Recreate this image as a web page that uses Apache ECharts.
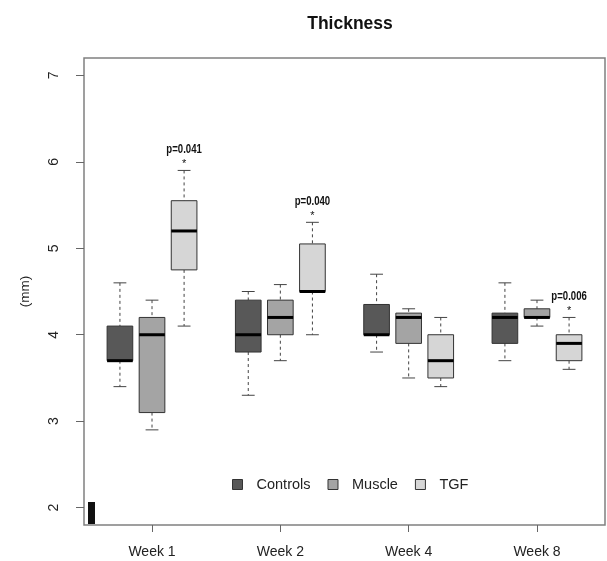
<!DOCTYPE html>
<html>
<head>
<meta charset="utf-8">
<title>Thickness</title>
<script src="https://cdn.jsdelivr.net/npm/echarts@6/dist/echarts.min.js"></script>
<style>
  html, body { margin: 0; padding: 0; background: #fff; }
  #chart { width: 607px; height: 561px; }
</style>
</head>
<body>
<div id="chart"></div>
<script>
// weeks on the x axis
const categories = ['Week 1', 'Week 2', 'Week 4', 'Week 8']
// [min, Q1, median, Q3, max] per week
const controls = [[3.4, 3.7, 3.7, 4.1, 4.6], [3.3, 3.8, 4.0, 4.4, 4.5], [3.8, 4.0, 4.0, 4.35, 4.7], [3.7, 3.9, 4.2, 4.25, 4.6]]
const muscle = [[2.9, 3.1, 4.0, 4.2, 4.4], [3.7, 4.0, 4.2, 4.4, 4.58], [3.5, 3.9, 4.2, 4.25, 4.3], [4.1, 4.2, 4.2, 4.3, 4.4]]
const tgf = [[4.1, 4.75, 5.2, 5.55, 5.9], [4.0, 4.5, 4.5, 5.05, 5.3], [3.4, 3.5, 3.7, 4.0, 4.2], [3.6, 3.7, 3.9, 4.0, 4.2]]
const pLabels = ['p=0.041', 'p=0.040', '', 'p=0.006']
const yTicks = [2, 3, 4, 5, 6, 7]
const xTicks = [1, 2, 3, 4]

const chart = echarts.init(document.getElementById('chart'))

function boxSeries(name, values, fill, slot, notes) {
  return {
    name: name,
    type: 'custom',
    itemStyle: {color: fill, borderColor: '#333', borderWidth: 1},
    encode: {x: 0, y: [1, 2, 3, 4, 5]},
    data: values.map((v, i) => [i + 1].concat(v)),
    renderItem: function (params, api) {
      const x = api.value(0)
      const unit = api.size([1, 0])[0]
      const cx = api.coord([x, 0])[0] + slot * unit * 0.25
      const hw = unit * 0.1
      const y = k => api.coord([x, api.value(k)])[1]
      const dash = {stroke: '#444', lineWidth: 1, lineDash: [3, 3]}
      const solid = {stroke: '#444', lineWidth: 1}
      const kids = [
        {type: 'line', shape: {x1: cx, y1: y(5), x2: cx, y2: y(4)}, style: dash},
        {type: 'line', shape: {x1: cx, y1: y(2), x2: cx, y2: y(1)}, style: dash},
        {type: 'line', shape: {x1: cx - hw / 2, y1: y(5), x2: cx + hw / 2, y2: y(5)}, style: solid},
        {type: 'line', shape: {x1: cx - hw / 2, y1: y(1), x2: cx + hw / 2, y2: y(1)}, style: solid},
        {type: 'rect', shape: {x: cx - hw, y: y(4), width: hw * 2, height: y(2) - y(4)},
          style: {fill: fill, stroke: '#333', lineWidth: 1}},
        {type: 'line', shape: {x1: cx - hw, y1: y(3), x2: cx + hw, y2: y(3)},
          style: {stroke: '#000', lineWidth: 3}}
      ]
      const note = notes && notes[params.dataIndex]
      if (note) {
        // condensed look: squeeze the bold text horizontally
        kids.push({type: 'text', x: cx, y: y(5) - 21, scaleX: 0.8, style: {
          text: note, align: 'center', verticalAlign: 'middle', fill: '#111',
          font: 'bold 12px "Liberation Sans", sans-serif'}})
        kids.push({type: 'text', x: cx, y: y(5) - 6, style: {
          text: '*', align: 'center', verticalAlign: 'middle', fill: '#111',
          font: '11px "Liberation Sans", sans-serif'}})
      }
      return {type: 'group', children: kids}
    }
  }
}

chart.setOption({
  animation: false,
  textStyle: {fontFamily: '"Liberation Sans", Arial, sans-serif'},
  title: {
    text: 'Thickness',
    left: 345,
    textAlign: 'center',
    top: 10,
    textStyle: {fontSize: 17.5, fontWeight: 'bold', color: '#111'}
  },
  legend: {
    data: ['Controls', 'Muscle', 'TGF'],
    left: 227,
    top: 472,
    itemWidth: 10,
    itemHeight: 10,
    itemGap: 17,
    icon: 'rect',
    itemStyle: {borderColor: '#333', borderWidth: 1},
    textStyle: {fontSize: 14.5, color: '#222', padding: [0, 0, 0, 9]}
  },
  grid: {
    left: 84, right: 2, top: 58, bottom: 36,
    show: true, borderColor: '#808080', borderWidth: 1.5
  },
  xAxis: {
    type: 'value',
    min: 0.47,
    max: 4.53,
    splitLine: {show: false},
    axisLine: {show: false},
    axisTick: {show: true, length: 7, customValues: xTicks, lineStyle: {color: '#666'}},
    axisLabel: {
      customValues: xTicks, margin: 20, fontSize: 14, color: '#222',
      formatter: v => categories[v - 1]
    }
  },
  yAxis: {
    type: 'value',
    min: 1.8,
    max: 7.2,
    name: '(mm)',
    nameLocation: 'middle',
    nameRotate: 90,
    nameGap: 52,
    nameTextStyle: {fontSize: 13.5, color: '#222'},
    splitLine: {show: false},
    axisLine: {show: false},
    axisTick: {show: true, length: 8, customValues: yTicks, lineStyle: {color: '#666'}},
    axisLabel: {customValues: yTicks, rotate: 90, margin: 23, fontSize: 14, color: '#222'}
  },
  graphic: [
    {type: 'rect', left: 88, top: 502, shape: {width: 7, height: 22}, style: {fill: '#111'}}
  ],
  series: [
    boxSeries('Controls', controls, '#585858', -1),
    boxSeries('Muscle', muscle, '#a4a4a4', 0),
    boxSeries('TGF', tgf, '#d6d6d6', 1, pLabels)
  ]
})
</script>
</body>
</html>
